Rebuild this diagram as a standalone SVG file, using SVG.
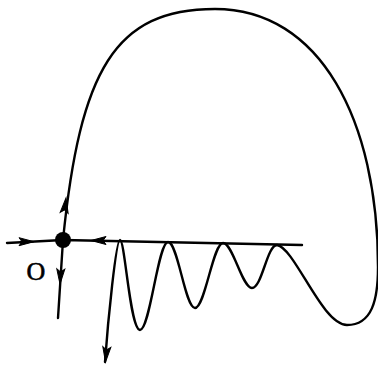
<svg xmlns="http://www.w3.org/2000/svg" width="378" height="366" viewBox="0 0 378 366">
<style>
.ln{fill:none;stroke:#000;stroke-width:2.4;stroke-linecap:round;stroke-linejoin:round}
.ah{fill:#000;stroke:#000;stroke-width:1}
.lbl{font-family:"Liberation Serif",serif;font-size:26px;fill:#000;stroke:#000;stroke-width:0.6}
</style>
<defs>
<path id="arr" d="M0,0 L-15,-4 L-12,0 L-15,4 Z"/>
</defs>
<g id="connectors">
<path class="ln" d="M7,243 L63,240 L302,245"/>
<path class="ln" d="M63,240 L58,318"/>
<path class="ln" d="M63,240 C80,70 115,9 215,9 C320,9 378,120 378,267 C378,300 372,325 347,325 C322,325 295,248 277,245 C267,245 262,288 252,288 C242,288 233,243 223,243 C213,243 205,308 195,308 C185,308 178,242 168,242 C158,242 150,330 140,330 C130,330 125,240 120,240 C116,240 108,320 105,362"/>
<use href="#arr" class="ah" transform="translate(34,241.7)"/>
<use href="#arr" class="ah" transform="translate(91,240.5) rotate(180)"/>
<use href="#arr" class="ah" transform="translate(66,198) rotate(-83)"/>
<use href="#arr" class="ah" transform="translate(60,284) rotate(93)"/>
<use href="#arr" class="ah" transform="translate(105.5,362) rotate(95)"/>
</g>
<g id="node-O">
<circle cx="63" cy="240" r="8" fill="#000"/>
<text class="lbl" x="36" y="280" text-anchor="middle">O</text>
</g>
</svg>
